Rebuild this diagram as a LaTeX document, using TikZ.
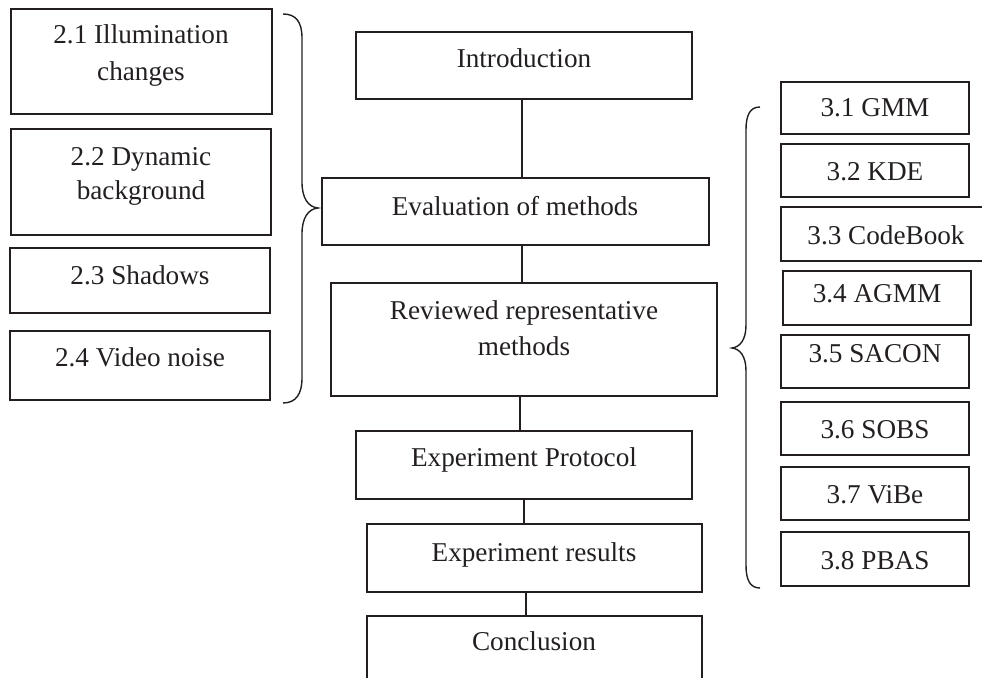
\documentclass[tikz,border=0pt]{standalone}
\usepackage{fontspec}
\setmainfont{Liberation Serif}
\usetikzlibrary{fit}
\definecolor{ink}{RGB}{35,31,32}
\begin{document}
\begin{tikzpicture}[x=0.5pt,y=-0.5pt,
  bx/.style={draw=ink, line width=0.7pt, inner sep=0pt},
  tx/.style={anchor=base, inner sep=0pt, text=ink, font=\fontsize{13.6}{16}\selectfont},
  conn/.style={draw=ink, line width=0.7pt},
  brace/.style={draw=ink, line width=0.7pt}]
\useasboundingbox (0,0) rectangle (982,678);

% left boxes
\node[bx, fit={(11,9) (272,114)}] (b21) {};
\node[tx] (t21a) at (141,44) {2.1 Illumination};
\node[tx] (t21b) at (141,81) {changes};
\node[bx, fit={(11,129) (271,235)}] (b22) {};
\node[tx] (t22a) at (141,166) {2.2 Dynamic};
\node[tx] (t22b) at (141,200) {background};
\node[bx, fit={(10,248) (270,313)}] (b23) {};
\node[tx] (t23) at (140,285) {2.3 Shadows};
\node[bx, fit={(10,331) (270,400)}] (b24) {};
\node[tx] (t24) at (140,367) {2.4 Video noise};

% centre column
\node[bx, fit={(356,32) (692,99)}] (intro) {};
\node[tx] (tintro) at (524,68) {Introduction};
\node[bx, fit={(322,178) (709,245)}] (eval) {};
\node[tx] (teval) at (515,216) {Evaluation of methods};
\node[bx, fit={(331,283) (717,396)}] (rev) {};
\node[tx] (treva) at (524,320) {Reviewed representative};
\node[tx] (trevb) at (524,356) {methods};
\node[bx, fit={(356,431) (692,499)}] (expp) {};
\node[tx] (texpp) at (524,467) {Experiment Protocol};
\node[bx, fit={(367,524) (702,592)}] (expr) {};
\node[tx] (texpr) at (534,562) {Experiment results};
\node[bx, fit={(367,616) (702,700)}] (concl) {};
\node[tx] (tconcl) at (534,651) {Conclusion};

% right boxes
\node[bx, fit={(781,82) (969,134)}] (r1) {};
\node[tx] (tr1) at (875,117) {3.1 GMM};
\node[bx, fit={(781,144) (969,197)}] (r2) {};
\node[tx] (tr2) at (875,181) {3.2 KDE};
\node[bx, fit={(781,207) (995,261)}] (r3) {};
\node[tx] (tr3) at (886,245) {3.3 CodeBook};
\node[bx, fit={(783,271) (971,325)}] (r4) {};
\node[tx] (tr4) at (877,303) {3.4 AGMM};
\node[bx, fit={(781,335) (969,388)}] (r5) {};
\node[tx] (tr5) at (875,363) {3.5 SACON};
\node[bx, fit={(781,402) (969,455)}] (r6) {};
\node[tx] (tr6) at (875,439) {3.6 SOBS};
\node[bx, fit={(781,467) (969,520)}] (r7) {};
\node[tx] (tr7) at (875,504) {3.7 ViBe};
\node[bx, fit={(781,532) (969,586)}] (r8) {};
\node[tx] (tr8) at (875,570) {3.8 PBAS};

% connectors
\draw[conn] (intro.south -| 522,0) -- (eval.north -| 522,0);
\draw[conn] (eval.south -| 522,0) -- (rev.north -| 522,0);
\draw[conn] (rev.south -| 520,0) -- (expp.north -| 520,0);
\draw[conn] (expp.south -| 524,0) -- (expr.north -| 524,0);
\draw[conn] (expr.south -| 526,0) -- (concl.north -| 526,0);

% braces
\draw[brace] (283,14) .. controls (296,14) and (302,22) .. (302,38)
  -- (302,182) .. controls (302,198) and (308,207) .. (318,208)
  .. controls (308,209) and (302,218) .. (302,234)
  -- (302,378) .. controls (302,394) and (296,403) .. (283,403);
\draw[brace] (760,107) .. controls (750,107) and (746,115) .. (746,130)
  -- (746,325) .. controls (746,340) and (740,347) .. (732,348)
  .. controls (740,349) and (746,356) .. (746,371)
  -- (746,565) .. controls (746,580) and (750,588) .. (760,588);
\end{tikzpicture}
\end{document}
